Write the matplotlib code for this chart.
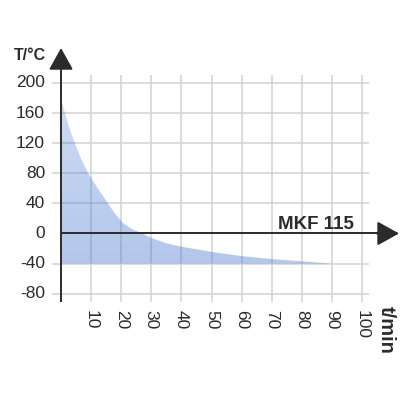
import matplotlib
matplotlib.use("Agg")
import matplotlib.pyplot as plt
import numpy as np

# Data
time_min = [0, 0.5, 1.3, 2.8, 4.6, 6.6, 9, 12.2, 15.6, 18, 20.6, 23.5, 27, 30, 35, 40, 50, 60, 70, 80, 90]
temp_c = [180, 172, 160, 140, 120, 100, 80, 60, 40, 26, 14, 6, 0, -6, -13, -17.5, -24.5, -30, -34, -37, -40]
floor_c = -40
x_ticks = [10, 20, 30, 40, 50, 60, 70, 80, 90, 100]
y_ticks = [200, 160, 120, 80, 40, 0, -40, -80]
x_label = "t/min"
y_label = "T/°C"
model = "MKF 115"

plt.rcParams['font.family'] = ['Liberation Sans', 'DejaVu Sans']

fig = plt.figure(figsize=(4, 4), dpi=100)
ax = fig.add_axes([0, 0, 1, 1])
ax.axis('off')

grid_c = '#d2d2d2'
axis_c = '#2b2b2b'
text_c = '#2b2b2b'

# grid
ax.vlines(x_ticks, -91, 210.6, color=grid_c, lw=1.1, zorder=1)
ax.hlines([v for v in y_ticks if v != 0], -3, 102.3, color=grid_c, lw=1.1, zorder=1)

# fill with a soft vertical gradient (lighter towards the top)
poly = ax.fill_between(time_min, temp_c, floor_c, facecolor='none', lw=0, zorder=2)
n = 256
alpha = np.linspace(0.40, 0.26, n)
grad = np.zeros((n, 2, 4))
grad[..., 0] = 0x3f / 255
grad[..., 1] = 0x72 / 255
grad[..., 2] = 0xd0 / 255
grad[..., 3] = alpha[:, None]
im = ax.imshow(grad, extent=[min(time_min), max(time_min), floor_c, max(temp_c)],
               origin='lower', aspect='auto', zorder=2, interpolation='bilinear')
im.set_clip_path(poly.get_paths()[0], transform=ax.transData)

# axes with arrows
ax.plot([0, 0], [-91, 235], color=axis_c, lw=1.4, zorder=3, solid_capstyle='butt')
ax.plot([0, 107], [0, 0], color=axis_c, lw=1.4, zorder=3, solid_capstyle='butt')
ax.annotate('', xy=(0, 246.5), xytext=(0, 228), zorder=4,
            arrowprops=dict(arrowstyle='-|>,head_length=0.9,head_width=0.5', color=axis_c,
                            lw=1.4, shrinkA=0, shrinkB=0, mutation_scale=15))
ax.annotate('', xy=(112.3, 0), xytext=(105, 0), zorder=4,
            arrowprops=dict(arrowstyle='-|>,head_length=0.9,head_width=0.5', color=axis_c,
                            lw=1.4, shrinkA=0, shrinkB=0, mutation_scale=15))

# tick labels
for v in y_ticks:
    ax.text(-5.3, v, str(v), ha='right', va='center', fontsize=12.5, color=text_c)
for v in x_ticks:
    ax.text(v, -101.7, str(v), ha='center', va='top', rotation=-90, fontsize=12.5, color=text_c)

ax.text(108, -96, x_label, ha='center', va='top', rotation=-90, fontsize=14.5,
        fontweight='bold', color=text_c)
ax.text(-5, 237, y_label, ha='right', va='center', fontsize=11.5, fontweight='bold', color=text_c)
ax.text(97.3, 6, model, ha='right', va='baseline', fontsize=13.5, fontweight='bold', color=text_c)

ax.set_xlim(-20.27, 112.62)
ax.set_ylim(-221.3, 310.3)

fig.savefig('out.png', dpi=100)
